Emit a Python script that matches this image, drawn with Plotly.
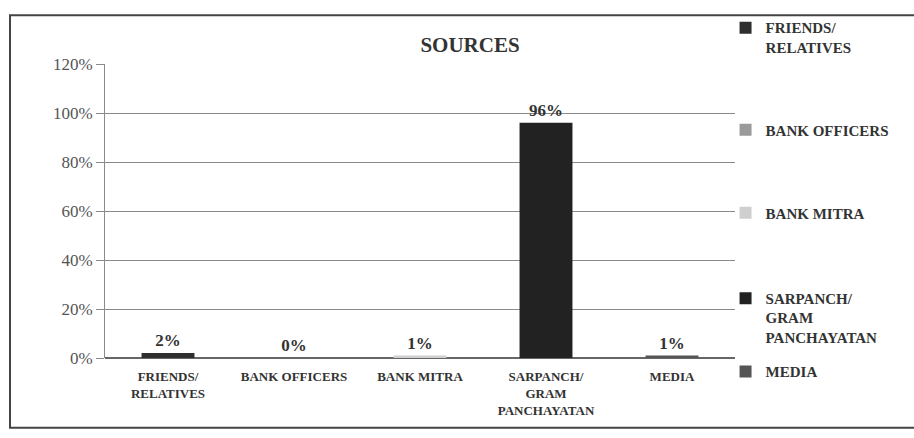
import plotly.graph_objects as go

categories = ["FRIENDS/<br>RELATIVES", "BANK OFFICERS", "BANK MITRA",
              "SARPANCH/<br>GRAM<br>PANCHAYATAN", "MEDIA"]
legend_names = ["FRIENDS/<br>RELATIVES", "BANK OFFICERS", "BANK MITRA",
                "SARPANCH/<br>GRAM<br>PANCHAYATAN", "MEDIA"]
values = [2, 0, 1, 96, 1]
labels = ["2%", "0%", "1%", "96%", "1%"]
colors = ["#2e2e2e", "#9a9a9a", "#cfcfcf", "#222222", "#555555"]
y_ticks = [0, 20, 40, 60, 80, 100, 120]
y_tick_text = ["0%", "20%", "40%", "60%", "80%", "100%", "120%"]

serif = "Liberation Serif"
legend_ids = ["legend", "legend2", "legend3", "legend4", "legend5"]
legend_y = [1.175, 0.773, 0.4915, 0.258, -0.047]
legend_anchor = ["top", "middle", "middle", "top", "middle"]

fig = go.Figure()
for i, cat in enumerate(categories):
    fig.add_trace(go.Bar(
        x=[cat], y=[values[i]], name=legend_names[i],
        marker=dict(color=colors[i], line=dict(width=0)),
        width=0.42, text=[labels[i]], textposition="outside",
        textfont=dict(family=serif, size=17, color="#333333", weight="bold"),
        cliponaxis=False, legend=legend_ids[i], showlegend=True,
    ))

layout_legends = {}
for i, lid in enumerate(legend_ids):
    layout_legends[lid] = dict(
        x=0.985, xanchor="left", y=legend_y[i], yanchor=legend_anchor[i],
        valign="top", itemwidth=30, bgcolor="rgba(0,0,0,0)", visible=True,
        font=dict(family=serif, size=15, color="#333333", weight="bold"),
    )

fig.update_layout(
    width=914, height=438,
    margin=dict(l=105, r=179, t=63, b=80),
    paper_bgcolor="white", plot_bgcolor="white",
    barmode="overlay", showlegend=True,
    title=dict(text="<b>SOURCES</b>", x=(470 / 914), xanchor="center",
               y=1 - 45 / 438, yanchor="middle",
               font=dict(family=serif, size=21, color="#333333")),
    xaxis=dict(categoryorder="array", categoryarray=categories,
               tickfont=dict(family=serif, size=13, color="#333333", weight="bold"),
               showline=False, ticks="", showgrid=False, ticklabelstandoff=9),
    yaxis=dict(range=[0, 120], tickvals=y_ticks, ticktext=y_tick_text,
               tickfont=dict(family=serif, size=17, color="#555555"),
               showgrid=True, gridcolor="#8a8a8a", gridwidth=1,
               showline=True, linecolor="#8a8a8a", linewidth=1,
               ticks="outside", ticklen=8, tickcolor="#8a8a8a",
               zeroline=True, zerolinecolor="#666666", zerolinewidth=1.5),
    shapes=[dict(type="rect", xref="paper", yref="paper",
                 x0=-95 / 630, x1=(914 - 105) / 630 + 0.02,
                 y0=-(428 - 358) / 295, y1=(358 - 14) / 295,
                 line=dict(color="#444444", width=2))],
    **layout_legends,
)

fig.write_html("out.html")
